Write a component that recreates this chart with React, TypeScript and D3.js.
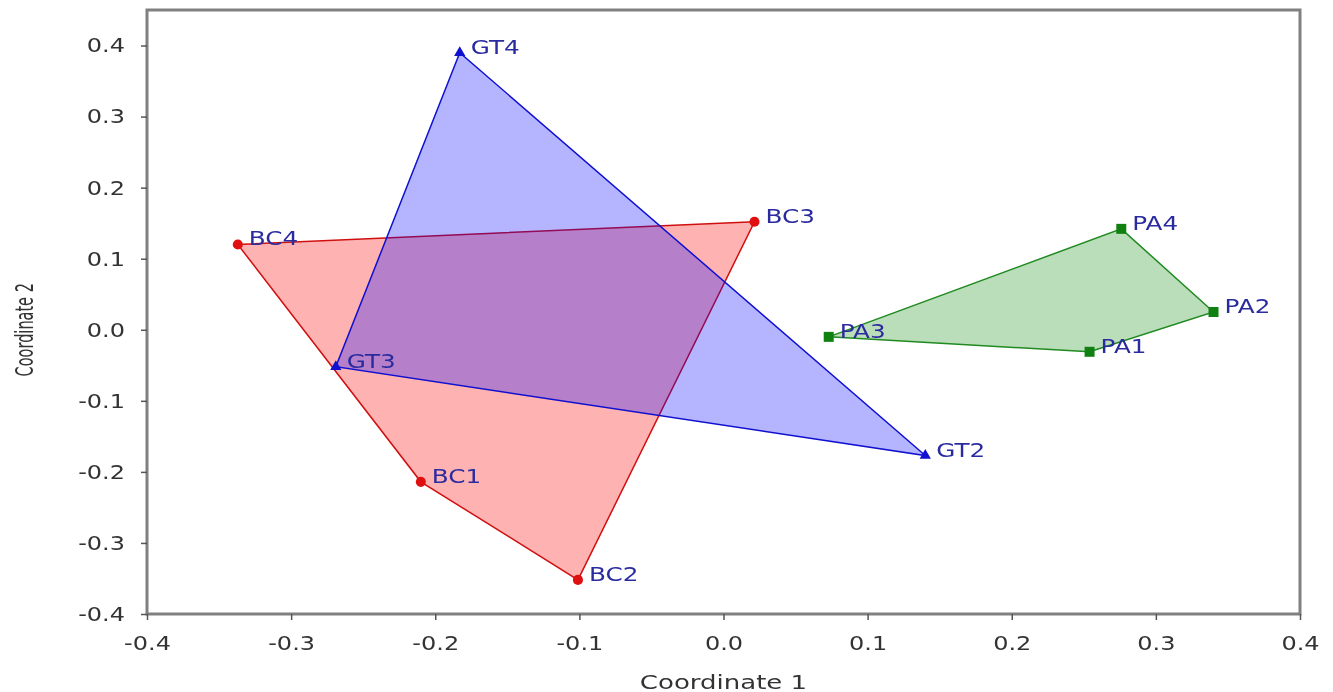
import React, { useEffect, useRef } from 'react'
import * as d3 from 'd3'

// group samples (coordinate 1, coordinate 2)
const bcNames = ['BC1', 'BC2', 'BC3', 'BC4']
const bcX = [-0.210, -0.101, 0.0215, -0.337]
const bcY = [-0.214, -0.352, 0.152, 0.120]

const gtNames = ['GT2', 'GT3', 'GT4']
const gtX = [0.140, -0.269, -0.183]
const gtY = [-0.177, -0.052, 0.390]

const paNames = ['PA1', 'PA2', 'PA3', 'PA4']
const paX = [0.254, 0.340, 0.073, 0.276]
const paY = [-0.031, 0.025, -0.010, 0.142]

const xTicks = [-0.4, -0.3, -0.2, -0.1, 0.0, 0.1, 0.2, 0.3, 0.4]
const yTicks = [-0.4, -0.3, -0.2, -0.1, 0.0, 0.1, 0.2, 0.3, 0.4]

type Pt = { name: string; x: number; y: number }
const toPts = (names: string[], xs: number[], ys: number[]): Pt[] =>
  names.map((n, i) => ({ name: n, x: xs[i], y: ys[i] }))

const groups = [
  { key: 'BC', pts: toPts(bcNames, bcX, bcY), fill: 'rgba(255,0,0,0.3)', stroke: '#d01010', color: '#e01010', shape: d3.symbolCircle, size: 80 },
  { key: 'GT', pts: toPts(gtNames, gtX, gtY), fill: 'rgba(0,0,255,0.29)', stroke: '#1010d0', color: '#1010d0', shape: d3.symbolTriangle, size: 55 },
  { key: 'PA', pts: toPts(paNames, paX, paY), fill: 'rgba(0,128,0,0.27)', stroke: '#1f8a1f', color: '#108010', shape: d3.symbolSquare, size: 100 },
]

const W = 1333, H = 692
// the reference is stretched sideways, so text is widened to match
const SX = 1.3

function Chart() {
  const ref = useRef<SVGSVGElement>(null)

  useEffect(() => {
    const svg = d3.select(ref.current)
    svg.selectAll('*').remove()

    const margin = { left: 147, right: 33, top: 10, bottom: 78 }
    const x = d3.scaleLinear().domain([-0.4, 0.4]).range([margin.left, W - margin.right])
    const y = d3.scaleLinear().domain([-0.4, 0.45]).range([H - margin.bottom, margin.top])
    const font = "'DejaVu Sans', Verdana, sans-serif"

    const g = svg.append('g')

    // polygons (convex hulls) then markers
    groups.forEach(gr => {
      const hull = d3.polygonHull(gr.pts.map(p => [x(p.x), y(p.y)] as [number, number]))
      if (hull) {
        g.append('path')
          .attr('d', 'M' + hull.map(p => p.join(',')).join('L') + 'Z')
          .attr('fill', gr.fill)
          .attr('stroke', gr.stroke)
          .attr('stroke-width', 1.5)
      }
    })

    groups.forEach(gr => {
      g.selectAll(null).data(gr.pts).join('path')
        .attr('d', d3.symbol().type(gr.shape).size(gr.size)())
        .attr('transform', d => `translate(${x(d.x)},${y(d.y)})`)
        .attr('fill', gr.color)
      g.selectAll(null).data(gr.pts).join('text')
        .attr('transform', d => `translate(${x(d.x) + 11},${y(d.y) + 1}) scale(${SX},1)`)
        .attr('font-family', font)
        .attr('font-size', 19)
        .attr('fill', '#2b2ba0')
        .text(d => d.name)
    })

    // frame
    svg.append('rect')
      .attr('x', margin.left).attr('y', margin.top)
      .attr('width', W - margin.right - margin.left)
      .attr('height', H - margin.bottom - margin.top)
      .attr('fill', 'none').attr('stroke', '#808080').attr('stroke-width', 3)

    const fmt = (v: number) => d3.format('.1f')(v).replace('−', '-')

    const xAxis = svg.append('g')
      .attr('transform', `translate(0,${H - margin.bottom})`)
      .call(d3.axisBottom(x).tickValues(xTicks).tickSize(6).tickPadding(16).tickFormat(d => fmt(+d)))
    const yAxis = svg.append('g')
      .attr('transform', `translate(${margin.left},0)`)
      .call(d3.axisLeft(y).tickValues(yTicks).tickSize(6).tickPadding(6).tickFormat(d => fmt(+d)))

    ;[xAxis, yAxis].forEach(a => {
      a.select('.domain').remove()
      a.selectAll('line').attr('stroke', '#555').attr('stroke-width', 1.5)
      a.selectAll('text').attr('font-family', font).attr('font-size', 20).attr('fill', '#333')
        .attr('transform', 'scale(1.2,1)')
    })
    yAxis.selectAll('text').attr('x', -22 / 1.2)

    svg.append('text')
      .attr('transform', `translate(${(margin.left + W - margin.right) / 2},689) scale(${SX},1)`)
      .attr('text-anchor', 'middle')
      .attr('font-family', font).attr('font-size', 20).attr('fill', '#333')
      .text('Coordinate 1')

    svg.append('text')
      .attr('transform', `translate(33,${y(0)}) rotate(-90) scale(1,1.65)`)
      .attr('text-anchor', 'middle')
      .attr('font-family', font).attr('font-size', 14.5).attr('fill', '#333')
      .text('Coordinate 2')
  }, [])

  return <svg ref={ref} width={W} height={H}
    style={{ position: 'fixed', left: 0, top: 0, display: 'block' }} />
}

export default function App() {
  return <Chart />
}
